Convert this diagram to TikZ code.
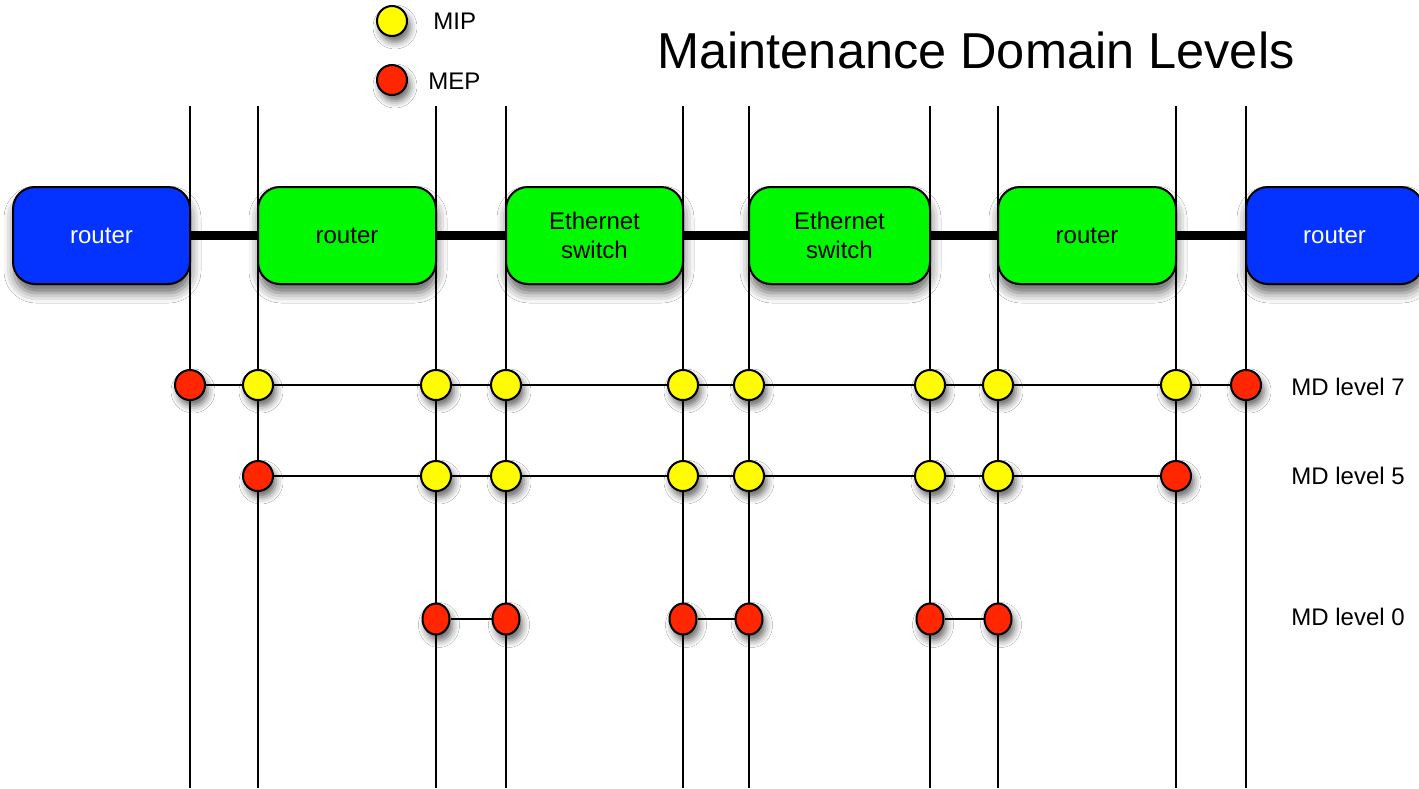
\documentclass[tikz,border=0pt]{standalone}
\usepackage{fontspec}
\setmainfont{Liberation Sans}
\usetikzlibrary{shapes.geometric,shadows.blur}
\definecolor{rblue}{HTML}{0433FF}
\definecolor{rgreen}{HTML}{00F900}
\definecolor{ryellow}{HTML}{FFFB00}
\definecolor{rred}{HTML}{FF2600}
\begin{document}
\begin{tikzpicture}[x=0.5pt,y=-0.5pt,
  box/.style={draw=black, line width=1pt, rounded corners=11pt, minimum height=48.5pt,
    inner sep=0pt, align=center, font=\fontsize{12}{14.5}\selectfont,
    blur shadow={shadow xshift=0.5pt, shadow yshift=-4.5pt, shadow blur radius=5pt, shadow opacity=60}},
  bluebox/.style={box, fill=rblue, text=white},
  greenbox/.style={box, fill=rgreen, text=black},
  dot/.style={circle, draw=black, line width=1pt, minimum size=15pt, inner sep=0pt,
    blur shadow={shadow xshift=1.5pt, shadow yshift=-3pt, shadow blur radius=3.5pt, shadow opacity=60}},
  mip/.style={dot, fill=ryellow},
  mep/.style={dot, fill=rred},
  mep0/.style={mep, ellipse, minimum size=0pt, minimum width=13.5pt, minimum height=15.5pt},
  vline/.style={draw=black, line width=0.75pt},
  hline/.style={draw=black, line width=0.75pt},
  link/.style={draw=black, line width=4.5pt},
  lbl/.style={font=\fontsize{12}{14.5}\selectfont, inner sep=0pt},
]
\useasboundingbox (0,0) rectangle (1419,788);
\fill[white] (0,0) rectangle (1419,788);

% vertical lines
\foreach \n/\x in {a/190,b/258,c/436,d/506,e/683,f/749,g/930,h/998,i/1176,j/1246}{
  \coordinate (t\n) at (\x,106);
  \coordinate (u\n) at (\x,788);
  \draw[vline] (t\n) -- (u\n);
}

% boxes
\node[bluebox, minimum width=88.5pt] (b1) at (101.5,235.5) {router};
\node[greenbox, minimum width=89pt] (b2) at (347,235.5) {router};
\node[greenbox, minimum width=88.5pt] (b3) at (594.5,235.5) {Ethernet\\switch};
\node[greenbox, minimum width=90.5pt] (b4) at (839.5,235.5) {Ethernet\\switch};
\node[greenbox, minimum width=89pt] (b5) at (1087,235.5) {router};
\node[bluebox, minimum width=88.5pt] (b6) at (1334.5,235.5) {router};

\draw[link] (b1.east) -- (b2.west);
\draw[link] (b2.east) -- (b3.west);
\draw[link] (b3.east) -- (b4.west);
\draw[link] (b4.east) -- (b5.west);
\draw[link] (b5.east) -- (b6.west);

% level 7
\node[mep] (s1) at (190,385) {};
\node[mip] (s2) at (258,385) {};
\node[mip] (s3) at (436,385) {};
\node[mip] (s4) at (506,385) {};
\node[mip] (s5) at (683,385) {};
\node[mip] (s6) at (749,385) {};
\node[mip] (s7) at (930,385) {};
\node[mip] (s8) at (998,385) {};
\node[mip] (s9) at (1176,385) {};
\node[mep] (s10) at (1246,385) {};
\foreach \p/\q in {1/2,2/3,3/4,4/5,5/6,6/7,7/8,8/9,9/10}{
  \draw[hline] (s\p) -- (s\q);
}

% level 5
\node[mep] (f1) at (258,476) {};
\node[mip] (f2) at (436,476) {};
\node[mip] (f3) at (506,476) {};
\node[mip] (f4) at (683,476) {};
\node[mip] (f5) at (749,476) {};
\node[mip] (f6) at (930,476) {};
\node[mip] (f7) at (998,476) {};
\node[mep] (f8) at (1176,476) {};
\foreach \p/\q in {1/2,2/3,3/4,4/5,5/6,6/7,7/8}{
  \draw[hline] (f\p) -- (f\q);
}

% level 0
\node[mep0] (z1) at (436,619) {};
\node[mep0] (z2) at (506,619) {};
\node[mep0] (z3) at (683,619) {};
\node[mep0] (z4) at (749,619) {};
\node[mep0] (z5) at (930,619) {};
\node[mep0] (z6) at (998,619) {};
\draw[hline] (z1) -- (z2);
\draw[hline] (z3) -- (z4);
\draw[hline] (z5) -- (z6);

% level labels
\node[lbl, anchor=west] (l7) at (1291,387) {MD level 7};
\node[lbl, anchor=west] (l5) at (1291,476) {MD level 5};
\node[lbl, anchor=west] (l0) at (1291,617) {MD level 0};

% legend
\node[mip] (kmip) at (392,21) {};
\node[lbl, anchor=west] (tmip) at (433,21) {MIP};
\node[mep] (kmep) at (392,80) {};
\node[lbl, anchor=west] (tmep) at (428,81) {MEP};

% title
\node[inner sep=0pt, anchor=base west, font=\fontsize{25.25}{30}\selectfont] (title) at (657,68) {Maintenance Domain Levels};
\end{tikzpicture}
\end{document}
